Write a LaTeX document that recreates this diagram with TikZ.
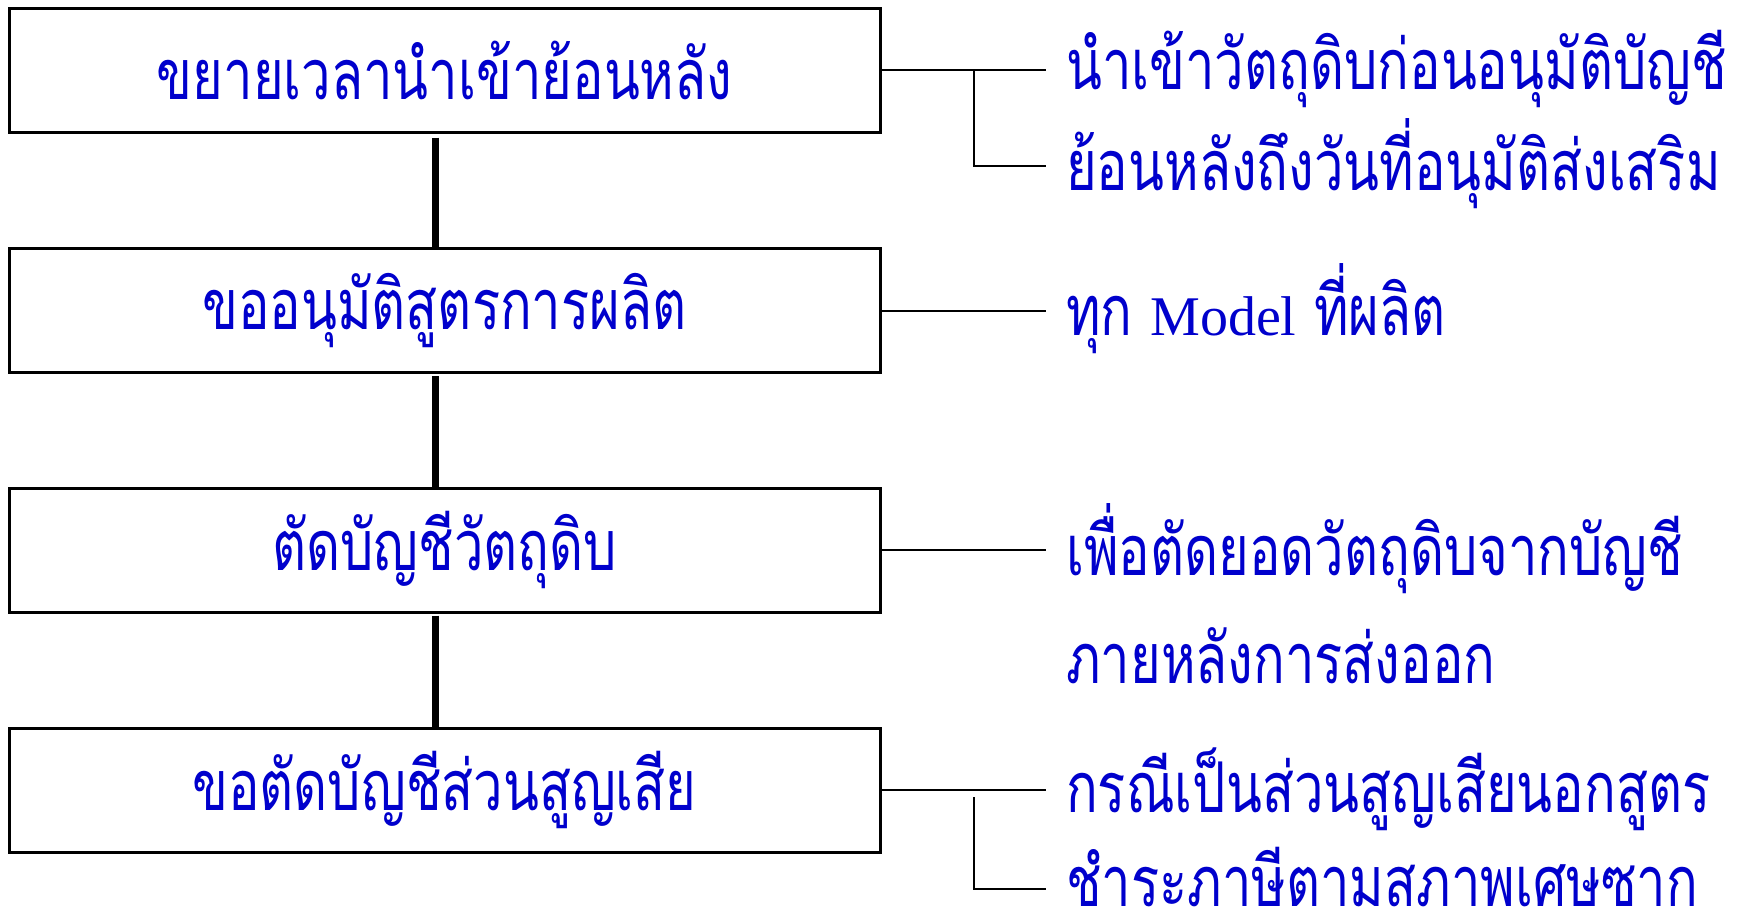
\documentclass[tikz,border=0pt]{standalone}
\usepackage{fontspec}
\newfontfamily\thaifont[Script=Thai,FakeStretch=0.75]{Loma}
\newfontfamily\latinserif{Liberation Serif}
\definecolor{txtblue}{RGB}{0,0,204}
\begin{document}
\begin{tikzpicture}[x=1pt,y=-1pt,
  stepbox/.style={draw=black,line width=3pt,minimum width=871pt,minimum height=124pt,inner sep=0pt,font=\thaifont\fontsize{70}{74}\selectfont,text=txtblue},
  note/.style={anchor=west,inner xsep=20pt,inner ysep=0pt,font=\thaifont\fontsize{70}{74}\selectfont,text=txtblue},
  trunk/.style={line width=7pt},
  branch/.style={line width=2pt}]
\useasboundingbox (0,0) rectangle (1764,910);
\node[stepbox] (b1) at (444.5,70) {ขยายเวลานำเข้าย้อนหลัง};
\node[stepbox] (b2) at (444.5,310.5) {ขออนุมัติสูตรการผลิต};
\node[stepbox] (b3) at (444.5,550) {ตัดบัญชีวัตถุดิบ};
\node[stepbox] (b4) at (444.5,790) {ขอตัดบัญชีส่วนสูญเสีย};
\node[note] (t1a) at (1046,69) {นำเข้าวัตถุดิบก่อนอนุมัติบัญชี};
\node[note] (t1b) at (1046,164) {ย้อนหลังถึงวันที่อนุมัติส่งเสริม};
\node[note] (t2) at (1046,308.5) {ทุก {\latinserif\fontsize{56}{60}\selectfont Model} ที่ผลิต};
\node[note] (t3a) at (1046,549) {เพื่อตัดยอดวัตถุดิบจากบัญชี};
\node[note] (t3b) at (1046,656) {ภายหลังการส่งออก};
\node[note] (t4a) at (1046,789) {กรณีเป็นส่วนสูญเสียนอกสูตร};
\node[note] (t4b) at (1046,877) {ชำระภาษีตามสภาพเศษซาก};
\coordinate (tx) at (435,0);
\draw[trunk,shorten <=4pt] (b1.south -| tx) -- (b2.north -| tx);
\draw[trunk,shorten <=2pt] (b2.south -| tx) -- (b3.north -| tx);
\draw[trunk,shorten <=2pt] (b3.south -| tx) -- (b4.north -| tx);
\coordinate (j1) at (974,71);
\coordinate (j4) at (974,797);
\draw[branch] (b1.east) -- (b1.east -| t1a.west);
\draw[branch] (j1) |- ([yshift=-2pt]t1b.west);
\draw[branch] (b2.east) -- (b2.east -| t2.west);
\draw[branch] (b3.east) -- (b3.east -| t3a.west);
\draw[branch] (b4.east) -- (b4.east -| t4a.west);
\draw[branch] (j4) |- ([yshift=-12pt]t4b.west);
\end{tikzpicture}
\end{document}
